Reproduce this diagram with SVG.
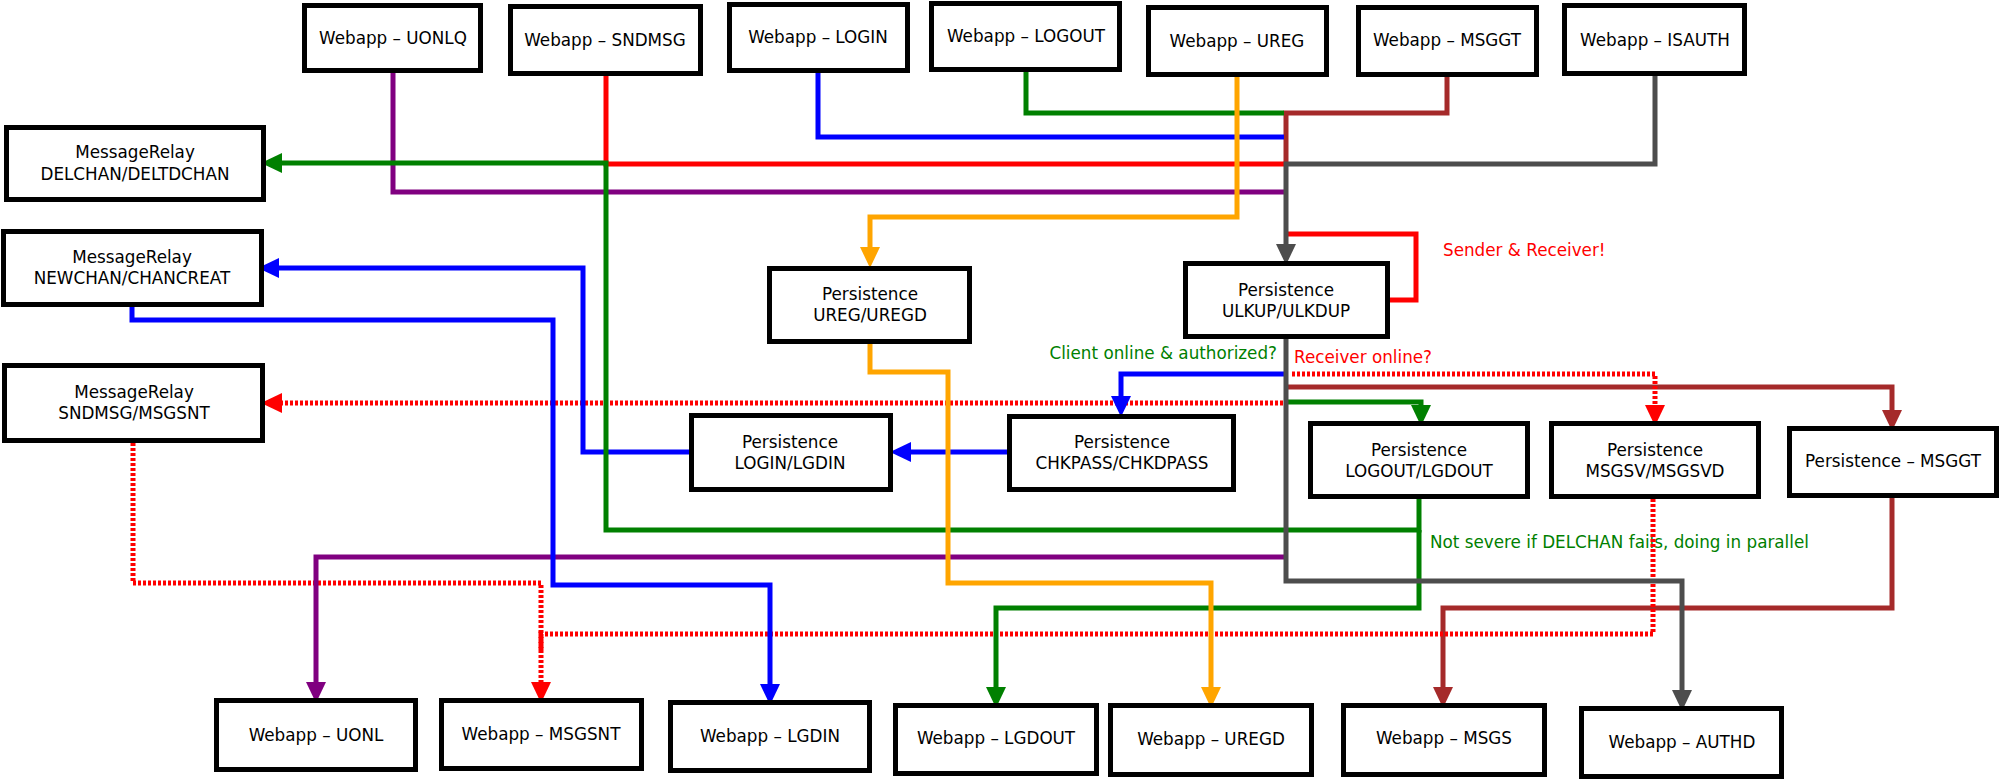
<svg xmlns="http://www.w3.org/2000/svg" width="2001" height="779" viewBox="0 0 2001 779">
<style>
.node rect{fill:#fff;stroke:#000;stroke-width:5}
.node text{font-family:"DejaVu Sans",sans-serif;font-size:16.8px;text-anchor:middle;fill:#000}
.c{fill:none;stroke-width:5;stroke-linejoin:miter;stroke-linecap:butt}
.dot{stroke-dasharray:3 2}
.lbl{font-family:"DejaVu Sans",sans-serif;font-size:16.8px}
</style>
<defs>
<marker id="aRed" markerUnits="userSpaceOnUse" markerWidth="21" markerHeight="20" refX="11" refY="10" orient="auto" viewBox="0 0 21 20"><path d="M0,0 L21,10 L0,20 z" fill="#ff0000"/></marker>
<marker id="aGreen" markerUnits="userSpaceOnUse" markerWidth="21" markerHeight="20" refX="11" refY="10" orient="auto" viewBox="0 0 21 20"><path d="M0,0 L21,10 L0,20 z" fill="#008000"/></marker>
<marker id="aBlue" markerUnits="userSpaceOnUse" markerWidth="21" markerHeight="20" refX="11" refY="10" orient="auto" viewBox="0 0 21 20"><path d="M0,0 L21,10 L0,20 z" fill="#0000ff"/></marker>
<marker id="aPurple" markerUnits="userSpaceOnUse" markerWidth="21" markerHeight="20" refX="11" refY="10" orient="auto" viewBox="0 0 21 20"><path d="M0,0 L21,10 L0,20 z" fill="#800080"/></marker>
<marker id="aOrange" markerUnits="userSpaceOnUse" markerWidth="21" markerHeight="20" refX="11" refY="10" orient="auto" viewBox="0 0 21 20"><path d="M0,0 L21,10 L0,20 z" fill="#ffa500"/></marker>
<marker id="aBrown" markerUnits="userSpaceOnUse" markerWidth="21" markerHeight="20" refX="11" refY="10" orient="auto" viewBox="0 0 21 20"><path d="M0,0 L21,10 L0,20 z" fill="#a52a2a"/></marker>
<marker id="aGray" markerUnits="userSpaceOnUse" markerWidth="21" markerHeight="20" refX="11" refY="10" orient="auto" viewBox="0 0 21 20"><path d="M0,0 L21,10 L0,20 z" fill="#4d4d4d"/></marker>
</defs>
<rect width="2001" height="779" fill="#fff"/>

<g id="labels">
<text class="lbl" x="1443" y="256" fill="#ff0000">Sender &amp; Receiver!</text>
<text class="lbl" x="1277" y="359" fill="#008000" text-anchor="end">Client online &amp; authorized?</text>
<text class="lbl" x="1294" y="363" fill="#ff0000">Receiver online?</text>
<text class="lbl" x="1430" y="548" fill="#008000">Not severe if DELCHAN fails, doing in parallel</text>
</g>

<g id="connectors">
<path class="c" stroke="#a52a2a" d="M1447,77 V113 H1286 V164"/>
<path class="c" stroke="#a52a2a" d="M1288,387 H1892 V421" marker-end="url(#aBrown)"/>
<path class="c" stroke="#a52a2a" d="M1892,498 V608 H1443 V698" marker-end="url(#aBrown)"/>
<path class="c" stroke="#ff0000" d="M606,76 V164 H1284"/>
<path class="c" stroke="#ff0000" d="M1288,234 H1416 V300 H1390"/>
<path class="c dot" stroke="#ff0000" d="M1292,374 H1655 V416" marker-end="url(#aRed)"/>
<path class="c dot" stroke="#ff0000" d="M1283,403 H271" marker-end="url(#aRed)"/>
<path class="c dot" stroke="#ff0000" d="M133,443 V583 H541 V693" marker-end="url(#aRed)"/>
<path class="c dot" stroke="#ff0000" d="M1653,499 V634 H541 V650"/>
<path class="c" stroke="#800080" d="M393,73 V192 H1284"/>
<path class="c" stroke="#800080" d="M1284,557 H316 V693" marker-end="url(#aPurple)"/>
<path class="c" stroke="#0000ff" d="M818,73 V137 H1284"/>
<path class="c" stroke="#0000ff" d="M1284,374 H1121 V407" marker-end="url(#aBlue)"/>
<path class="c" stroke="#0000ff" d="M1008,452 H900" marker-end="url(#aBlue)"/>
<path class="c" stroke="#0000ff" d="M690,452 H583 V268 H268" marker-end="url(#aBlue)"/>
<path class="c" stroke="#0000ff" d="M132,306 V320 H553 V585 H770 V695" marker-end="url(#aBlue)"/>
<path class="c" stroke="#008000" d="M1026,72 V113 H1284"/>
<path class="c" stroke="#008000" d="M1288,402 H1421 V416" marker-end="url(#aGreen)"/>
<path class="c" stroke="#008000" d="M1419,499 V530 H606 V163 H271" marker-end="url(#aGreen)"/>
<path class="c" stroke="#008000" d="M1419,530 V608 H996 V698" marker-end="url(#aGreen)"/>
<path class="c" stroke="#ffa500" d="M1237,77 V217 H870 V258" marker-end="url(#aOrange)"/>
<path class="c" stroke="#ffa500" d="M870,344 V372 H948 V583 H1211 V698" marker-end="url(#aOrange)"/>
<path class="c" stroke="#4d4d4d" d="M1655,76 V164 H1286 V255" marker-end="url(#aGray)"/>
<path class="c" stroke="#4d4d4d" d="M1286,339 V581 H1682 V701" marker-end="url(#aGray)"/>
</g>

<g id="n-uonlq" class="node"><rect x="304.5" y="5.5" width="176" height="65"/><text x="393" y="44">Webapp – UONLQ</text></g>
<g id="n-sndmsg" class="node"><rect x="510.5" y="6.5" width="190" height="67"/><text x="605" y="46">Webapp – SNDMSG</text></g>
<g id="n-login" class="node"><rect x="729.5" y="4.5" width="178" height="66"/><text x="818" y="43">Webapp – LOGIN</text></g>
<g id="n-logout" class="node"><rect x="931.5" y="3.5" width="188" height="66"/><text x="1026" y="42">Webapp – LOGOUT</text></g>
<g id="n-ureg" class="node"><rect x="1148.5" y="7.5" width="178" height="67"/><text x="1237" y="47">Webapp – UREG</text></g>
<g id="n-msggt" class="node"><rect x="1358.5" y="7.5" width="178" height="67"/><text x="1447" y="46">Webapp – MSGGT</text></g>
<g id="n-isauth" class="node"><rect x="1564.5" y="5.5" width="180" height="68"/><text x="1655" y="46">Webapp – ISAUTH</text></g>

<g id="n-delchan" class="node"><rect x="6.5" y="127.5" width="257" height="72"/><text x="135" y="158">MessageRelay</text><text x="135" y="180">DELCHAN/DELTDCHAN</text></g>
<g id="n-newchan" class="node"><rect x="3.5" y="231.5" width="258" height="73"/><text x="132" y="263">MessageRelay</text><text x="132" y="284">NEWCHAN/CHANCREAT</text></g>
<g id="n-relay-sndmsg" class="node"><rect x="4.5" y="365.5" width="258" height="75"/><text x="134" y="398">MessageRelay</text><text x="134" y="419">SNDMSG/MSGSNT</text></g>

<g id="n-p-ureg" class="node"><rect x="769.5" y="268.5" width="200" height="73"/><text x="870" y="300">Persistence</text><text x="870" y="321">UREG/UREGD</text></g>
<g id="n-p-ulkup" class="node"><rect x="1185.5" y="263.5" width="202" height="73"/><text x="1286" y="296">Persistence</text><text x="1286" y="317">ULKUP/ULKDUP</text></g>
<g id="n-p-login" class="node"><rect x="691.5" y="415.5" width="199" height="74"/><text x="790" y="448">Persistence</text><text x="790" y="469">LOGIN/LGDIN</text></g>
<g id="n-p-chkpass" class="node"><rect x="1009.5" y="416.5" width="224" height="73"/><text x="1122" y="448">Persistence</text><text x="1122" y="469">CHKPASS/CHKDPASS</text></g>
<g id="n-p-logout" class="node"><rect x="1310.5" y="423.5" width="217" height="73"/><text x="1419" y="456">Persistence</text><text x="1419" y="477">LOGOUT/LGDOUT</text></g>
<g id="n-p-msgsv" class="node"><rect x="1551.5" y="423.5" width="207" height="73"/><text x="1655" y="456">Persistence</text><text x="1655" y="477">MSGSV/MSGSVD</text></g>
<g id="n-p-msggt" class="node"><rect x="1789.5" y="428.5" width="207" height="67"/><text x="1893" y="467">Persistence – MSGGT</text></g>

<g id="n-uonl" class="node"><rect x="216.5" y="700.5" width="199" height="69"/><text x="316" y="741">Webapp – UONL</text></g>
<g id="n-msgsnt" class="node"><rect x="441.5" y="700.5" width="200" height="68"/><text x="541" y="740">Webapp – MSGSNT</text></g>
<g id="n-lgdin" class="node"><rect x="670.5" y="702.5" width="199" height="68"/><text x="770" y="742">Webapp – LGDIN</text></g>
<g id="n-lgdout" class="node"><rect x="895.5" y="705.5" width="201" height="68"/><text x="996" y="744">Webapp – LGDOUT</text></g>
<g id="n-uregd" class="node"><rect x="1110.5" y="705.5" width="201" height="69"/><text x="1211" y="745">Webapp – UREGD</text></g>
<g id="n-msgs" class="node"><rect x="1343.5" y="705.5" width="201" height="69"/><text x="1444" y="744">Webapp – MSGS</text></g>
<g id="n-authd" class="node"><rect x="1581.5" y="708.5" width="200" height="68"/><text x="1682" y="748">Webapp – AUTHD</text></g>
</svg>
